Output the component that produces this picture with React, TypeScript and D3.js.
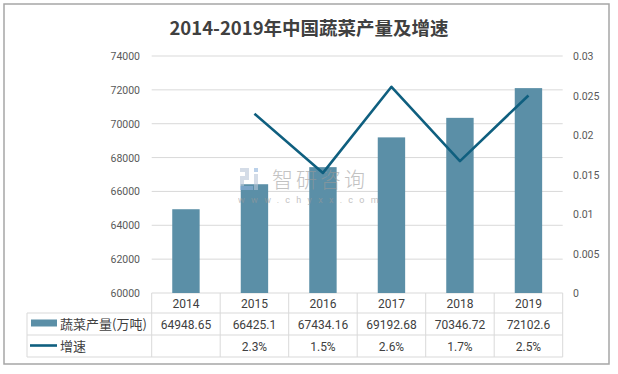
import React from "react";
import * as d3 from "d3";

const years = ["2014", "2015", "2016", "2017", "2018", "2019"];
const output = [64948.65, 66425.1, 67434.16, 69192.68, 70346.72, 72102.6];
const outputLabels = ["64948.65", "66425.1", "67434.16", "69192.68", "70346.72", "72102.6"];
const growth = [null, 0.0227, 0.0152, 0.0261, 0.0167, 0.025];
const growthLabels = ["", "2.3%", "1.5%", "2.6%", "1.7%", "2.5%"];
const leftTicks = [60000, 62000, 64000, 66000, 68000, 70000, 72000, 74000];
const rightTicks = [0, 0.005, 0.01, 0.015, 0.02, 0.025, 0.03];
const rightTickLabels = ["0", "0.005", "0.01", "0.015", "0.02", "0.025", "0.03"];

const W = 618;
const H = 374;
const plotLeft = 151.7;
const plotRight = 562.7;
const plotTop = 56;
const plotBottom = 293;
const row1 = 313;
const row2 = 335;
const row3 = 357;
const tableLeft = 27;

const barColor = "#5b8fa7";
const lineColor = "#0f5f7f";
const gridColor = "#d9d9d9";
const numFont = "Roboto, 'Noto Sans', sans-serif";
const cjkFont = "'Noto Sans CJK SC', sans-serif";

export default function App() {
  const x = d3.scaleBand().domain(years).range([plotLeft, plotRight]);
  const yL = d3.scaleLinear().domain([60000, 74000]).range([plotBottom, plotTop]);
  const yR = d3.scaleLinear().domain([0, 0.03]).range([plotBottom, plotTop]);
  const bw = x.bandwidth() * 0.4;
  const cx = (y: string) => (x(y) as number) + x.bandwidth() / 2;

  const linePts = years
    .map((y, i) => ({ y, g: growth[i] }))
    .filter((d) => d.g !== null) as { y: string; g: number }[];
  const line = d3
    .line<{ y: string; g: number }>()
    .x((d) => cx(d.y))
    .y((d) => yR(d.g));

  return (
    <div style={{ position: "absolute", left: 0, top: 0 }}>
      <svg width={W} height={H} style={{ display: "block", background: "#fff" }}>
        <rect x={4} y={4} width={605} height={360} fill="#fff" stroke="#a6a6a6" strokeWidth={1.5} />
        <text
          x={309}
          y={35}
          textAnchor="middle"
          fontFamily={cjkFont}
          fontWeight="bold"
          fontSize={18.5}
          fill="#404040"
        >
          2014-2019年中国蔬菜产量及增速
        </text>

        {/* gridlines */}
        {leftTicks.map((t) => (
          <line key={t} x1={plotLeft} x2={plotRight} y1={yL(t)} y2={yL(t)} stroke={gridColor} strokeWidth={1} />
        ))}
        {leftTicks.map((t) => (
          <text
            key={"l" + t}
            x={140}
            y={yL(t) + 4}
            textAnchor="end"
            fontFamily={numFont}
            fontSize={10.5}
            fill="#595959"
          >
            {t}
          </text>
        ))}
        {rightTicks.map((t, i) => (
          <text key={"r" + t} x={573} y={yR(t) + 4} fontFamily={numFont} fontSize={10.5} fill="#595959">
            {rightTickLabels[i]}
          </text>
        ))}

        {/* bars */}
        {years.map((y, i) => (
          <rect
            key={y}
            x={cx(y) - bw / 2}
            y={yL(output[i])}
            width={bw}
            height={plotBottom - yL(output[i])}
            fill={barColor}
          />
        ))}

        {/* watermark */}
        <g opacity={0.6}>
          <rect x={240} y={168} width={9} height={4} fill="#b8c6d8" />
          <rect x={245} y={168} width={4} height={11} fill="#b8c6d8" />
          <rect x={240} y={176} width={9} height={4} fill="#b8c6d8" />
          <rect x={240} y={176} width={4} height={14} fill="#b8c6d8" />
          <rect x={240} y={186} width={13} height={4} fill="#8fb3dd" />
          <rect x={254} y={168} width={4} height={4} fill="#8fb3dd" />
          <rect x={254} y={174} width={4} height={16} fill="#b8c6d8" />
          <text x={272} y={187} fontFamily={cjkFont} fontWeight={300} fontSize={21} fill="#9a9a9a" letterSpacing={3}>
            智研咨询
          </text>
          <text x={238} y={203} fontFamily={numFont} fontSize={9} fill="#9a9a9a" letterSpacing={6.3}>
            www.chyxx.com
          </text>
        </g>

        <path d={line(linePts) || ""} fill="none" stroke={lineColor} strokeWidth={2.6} strokeLinejoin="round" />

        {/* table */}
        {[row1, row2, row3].map((r) => (
          <line key={r} x1={tableLeft} x2={plotRight} y1={r} y2={r} stroke={gridColor} strokeWidth={1} />
        ))}
        <line x1={tableLeft} x2={tableLeft} y1={row1} y2={row3} stroke={gridColor} />
        {years.map((y) => (
          <line key={"v" + y} x1={x(y)} x2={x(y)} y1={plotBottom} y2={row3} stroke={gridColor} />
        ))}
        <line x1={plotRight} x2={plotRight} y1={plotBottom} y2={row3} stroke={gridColor} />

        {years.map((y, i) => (
          <g key={"t" + y} fontFamily={numFont} fontSize={12} fill="#404040" textAnchor="middle">
            <text x={cx(y)} y={308}>{y}</text>
            <text x={cx(y)} y={329}>{outputLabels[i]}</text>
            <text x={cx(y)} y={351}>{growthLabels[i]}</text>
          </g>
        ))}

        <rect x={31} y={319.5} width={26} height={7} fill={barColor} />
        <text x={60} y={329} fontFamily={cjkFont} fontSize={13} fill="#404040">
          蔬菜产量(万吨)
        </text>
        <line x1={30} x2={57} y1={345.5} y2={345.5} stroke={lineColor} strokeWidth={2.6} />
        <text x={60} y={351} fontFamily={cjkFont} fontSize={13} fill="#404040">
          增速
        </text>
      </svg>
    </div>
  );
}
